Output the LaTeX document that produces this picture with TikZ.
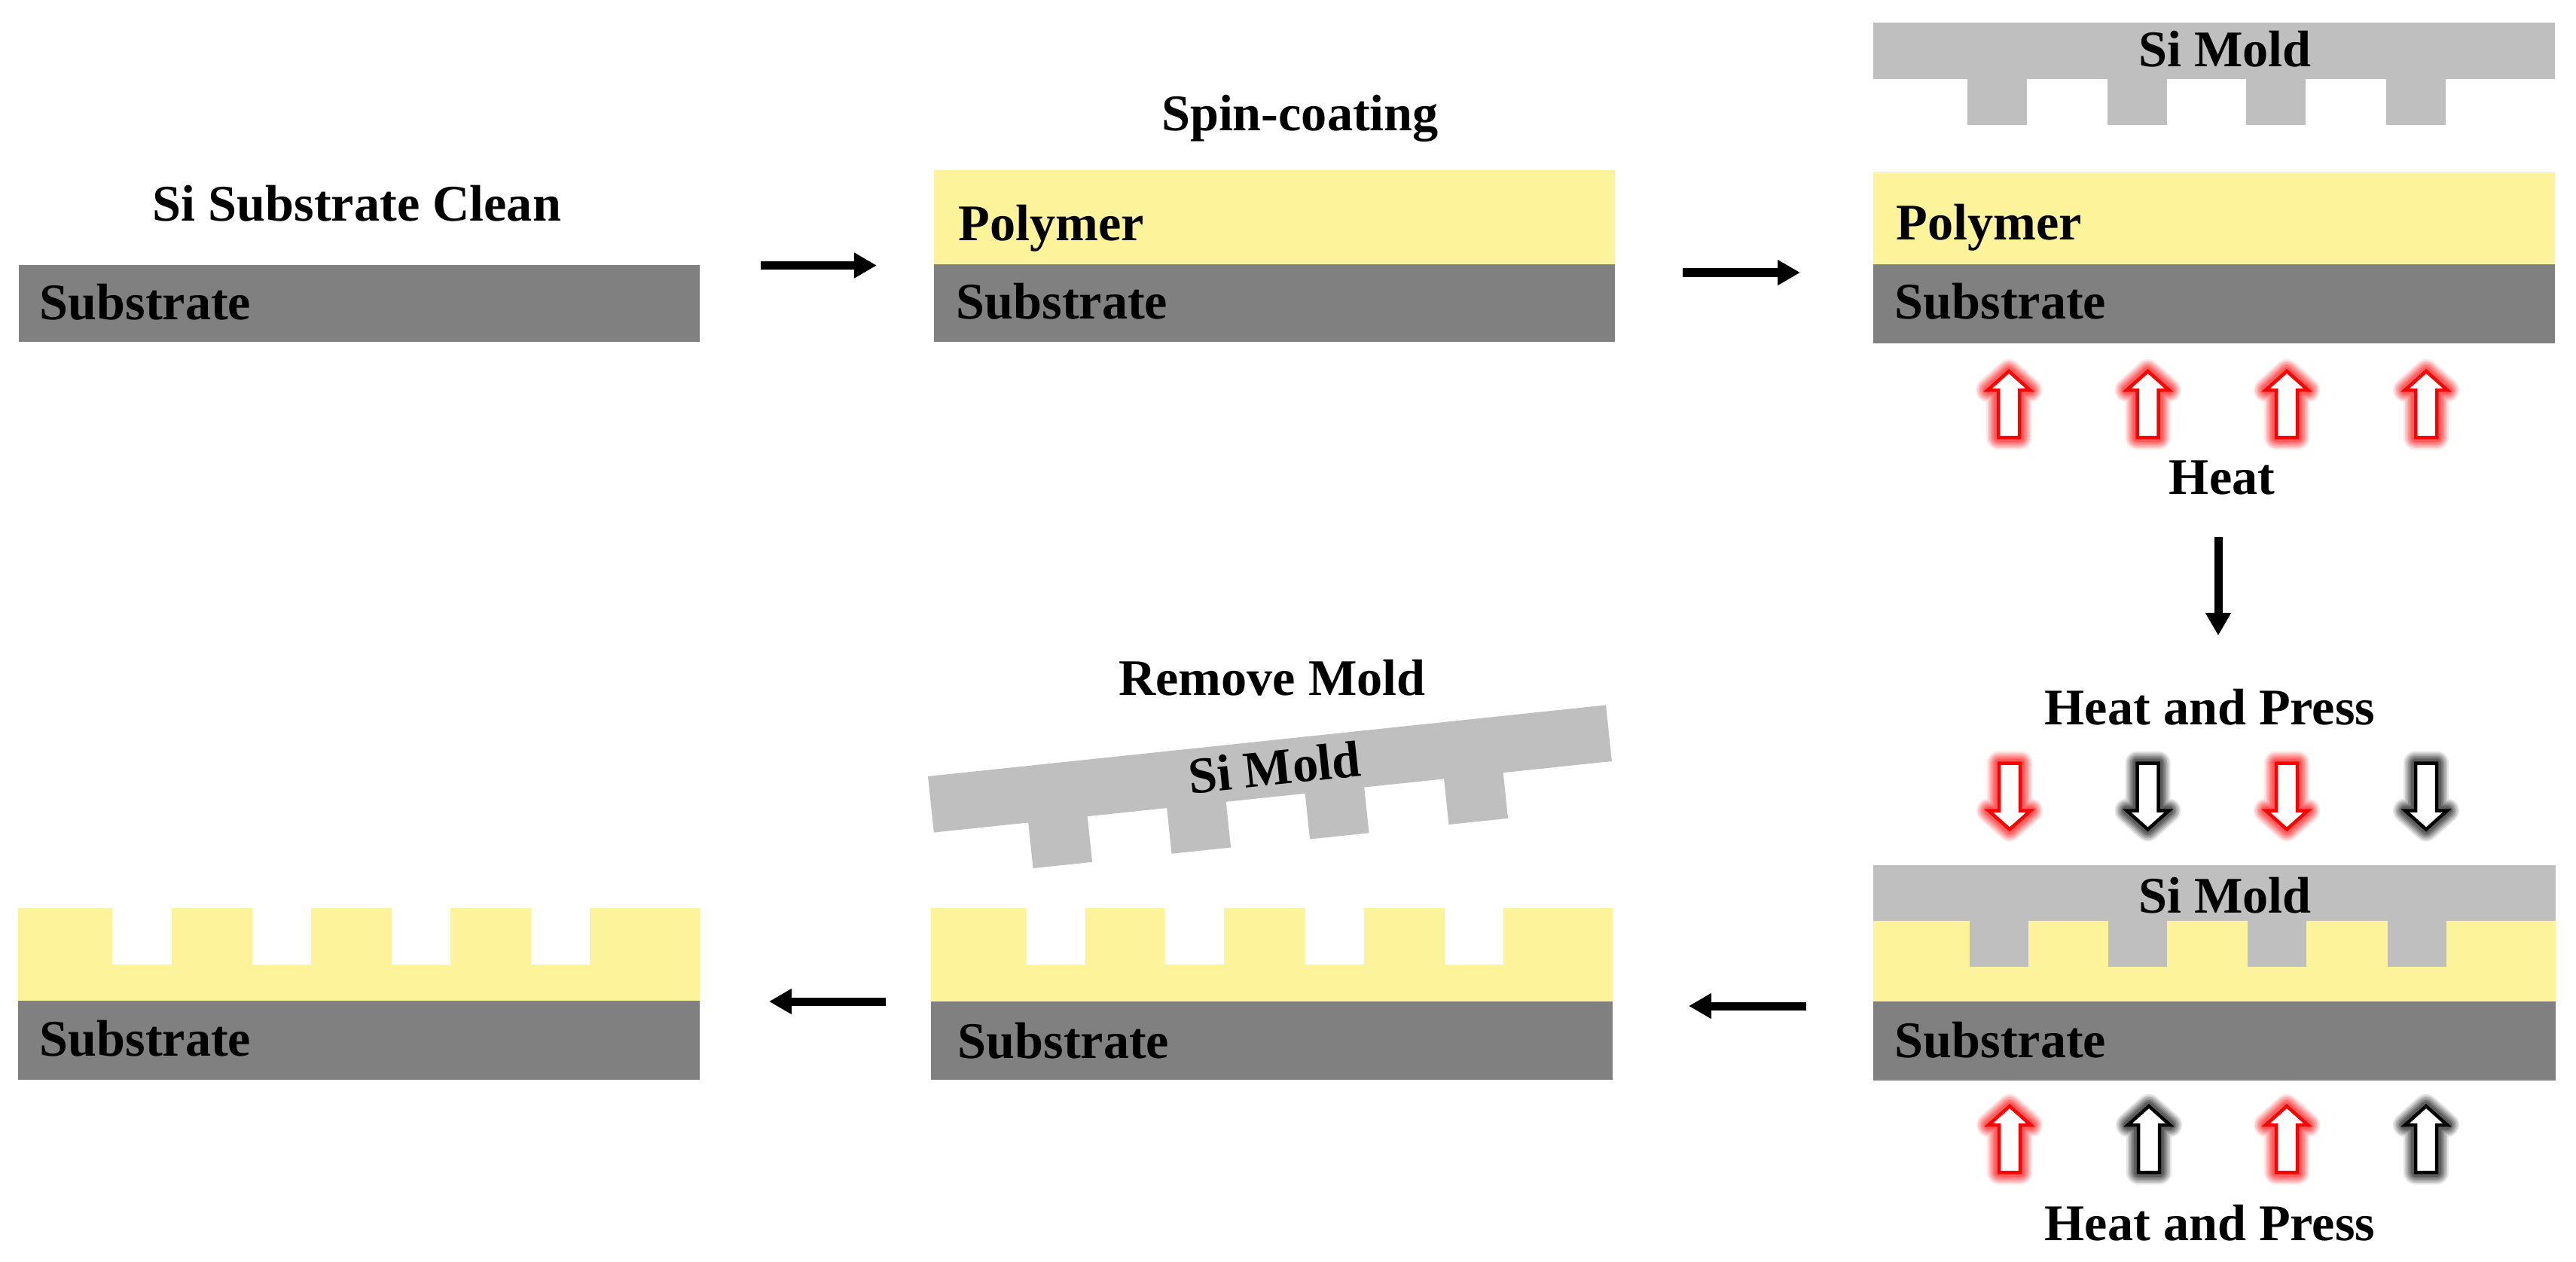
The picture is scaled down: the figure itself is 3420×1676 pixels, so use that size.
\documentclass[tikz,border=0pt]{standalone}
\usepackage{fontspec}
\setmainfont{Liberation Serif}
\usepackage{tikz}
\usetikzlibrary{arrows.meta}
\definecolor{polymercol}{HTML}{FCF39B}
\definecolor{substratecol}{HTML}{808080}
\definecolor{moldcol}{HTML}{BFBFBF}
\newcommand{\hollowpath}{(0,3) -- (28,28) -- (14,28) -- (14,91) -- (-14,91) -- (-14,28) -- (-28,28) -- cycle}
\tikzset{
    >={Triangle[length=0.3cm,width=0.32cm]},
    caption/.style={inner sep=0pt, font=\fontsize{19.4}{23}\selectfont\bfseries, text=black},
    flow/.style={->, line width=0.11cm},
    polymer/.style={fill=polymercol},
    substrate/.style={fill=substratecol},
    mold/.style={fill=moldcol},
    pics/hollow/.style={code={
        \foreach \w/\o in {32/0.10,28/0.12,24/0.14,20/0.16,16/0.18,12/0.22}
            \draw[#1, line width=\w*0.01cm, line join=round, opacity=\o] \hollowpath;
        \draw[#1, line width=0.045cm, line join=miter, fill=white] \hollowpath;
    }}
}

\begin{document}
\begin{tikzpicture}[x=0.01cm, y=-0.01cm]
    \useasboundingbox (0,0) rectangle (3420,1676);

    \coordinate (M1) at (2486.5,30);
    \coordinate (M2) at (2486.5,1148.5);
    \coordinate (M3) at (1232,1031);

    % Stage #1
    \fill[substrate] (25,352) rectangle (929,454);
    \node[caption, anchor=base] (clean) at (474,294) {Si Substrate Clean};
    \node[caption, anchor=base west] (sub1) at (52,424) {Substrate};

    % Stage #2
    \fill[polymer] (1240,226) rectangle (2144,351);
    \fill[substrate] (1240,351) rectangle (2144,454);
    \node[caption, anchor=base] (spin) at (1726,174) {Spin-coating};
    \node[caption, anchor=base west] (pol2) at (1272,320) {Polymer};
    \node[caption, anchor=base west] (sub2) at (1269,423) {Substrate};

    % Stage #3
    \begin{scope}[shift={(M1)}]
        \fill[mold] (0,0) rectangle (905,75);
        \foreach \t in {125.5,311,495.5,681.5}
            \fill[mold] (\t,74) rectangle (\t+79,136);
    \end{scope}
    \fill[polymer] (2486.5,229) rectangle (3391.5,351);
    \fill[substrate] (2486.5,351) rectangle (3391.5,456);
    \node[caption, anchor=base] (mold3) at (2954,89) {Si Mold};
    \node[caption, anchor=base west] (pol3) at (2517,318) {Polymer};
    \node[caption, anchor=base west] (sub3) at (2515,423) {Substrate};
    \foreach \x in {2667,2851.5,3036,3221}
        \pic at (\x,490) {hollow=red};
    \node[caption, anchor=base] (heat) at (2950,656) {Heat};

    % Stage #4
    \node[caption, anchor=base] (press1) at (2934,962) {Heat and Press};
    \foreach \x/\c in {2668/red,2851.5/black,3036/red,3221/black}
        \pic[rotate=180] at (\x,1104.5) {hollow=\c};
    \fill[polymer] (2486.5,1223) rectangle (3393,1330);
    \begin{scope}[shift={(M2)}]
        \fill[mold] (0,0) rectangle (906.5,74.5);
        \foreach \t in {128.5,312.5,497.5,683.5}
            \fill[mold] (\t,73) rectangle (\t+78,135.5);
    \end{scope}
    \fill[substrate] (2486.5,1330) rectangle (3393,1435);
    \node[caption, anchor=base] (mold4) at (2954,1212) {Si Mold};
    \node[caption, anchor=base west] (sub4) at (2515,1404) {Substrate};
    \foreach \x/\c in {2668/red,2853/black,3036/red,3221/black}
        \pic at (\x,1466) {hollow=\c};
    \node[caption, anchor=base] (press2) at (2934,1647.5) {Heat and Press};

    % Stage #5
    \begin{scope}[shift={(M3)}, rotate=6]
        \fill[mold] (0,0) rectangle (905,75);
        \foreach \t in {126,311,495.5,681}
            \fill[mold] (\t,74) rectangle (\t+79,136);
    \end{scope}
    \node[caption, anchor=center, rotate=6] (mold5) at (1692,1019) {Si Mold};
    \node[caption, anchor=base] (remove) at (1689,923) {Remove Mold};
    \fill[polymer] (1235.5,1206) -- (1362.5,1206) -- (1362.5,1281) -- (1440.5,1281) -- (1440.5,1206)
        -- (1546.5,1206) -- (1546.5,1281) -- (1625,1281) -- (1625,1206)
        -- (1732.5,1206) -- (1732.5,1281) -- (1811,1281) -- (1811,1206)
        -- (1918,1206) -- (1918,1281) -- (1996,1281) -- (1996,1206)
        -- (2141,1206) -- (2141,1330) -- (1235.5,1330) -- cycle;
    \fill[substrate] (1235.5,1329.5) rectangle (2141,1434);
    \node[caption, anchor=base west] (sub5) at (1271,1405) {Substrate};

    % Stage #6
    \fill[polymer] (24,1206) -- (149,1206) -- (149,1281) -- (228,1281) -- (228,1206)
        -- (335,1206) -- (335,1281) -- (413,1281) -- (413,1206)
        -- (520,1206) -- (520,1281) -- (598,1281) -- (598,1206)
        -- (705,1206) -- (705,1281) -- (783,1281) -- (783,1206)
        -- (929,1206) -- (929,1330) -- (24,1330) -- cycle;
    \fill[substrate] (24,1329) rectangle (929,1434);
    \node[caption, anchor=base west] (sub6) at (52,1402) {Substrate};

    % Process Flow
    \coordinate (F1a) at (1010,352.5);
    \coordinate (F1b) at (1164,352.5);
    \coordinate (F2a) at (2234,362);
    \coordinate (F2b) at (2390,362);
    \coordinate (F3a) at (2945,713);
    \coordinate (F3b) at (2945,844);
    \coordinate (F4a) at (2398,1336);
    \coordinate (F4b) at (2242,1336);
    \coordinate (F5a) at (1176,1330);
    \coordinate (F5b) at (1021,1330);
    \draw[flow] (F1a) -- (F1b);
    \draw[flow] (F2a) -- (F2b);
    \draw[flow] (F3a) -- (F3b);
    \draw[flow] (F4a) -- (F4b);
    \draw[flow] (F5a) -- (F5b);
\end{tikzpicture}
\end{document}
